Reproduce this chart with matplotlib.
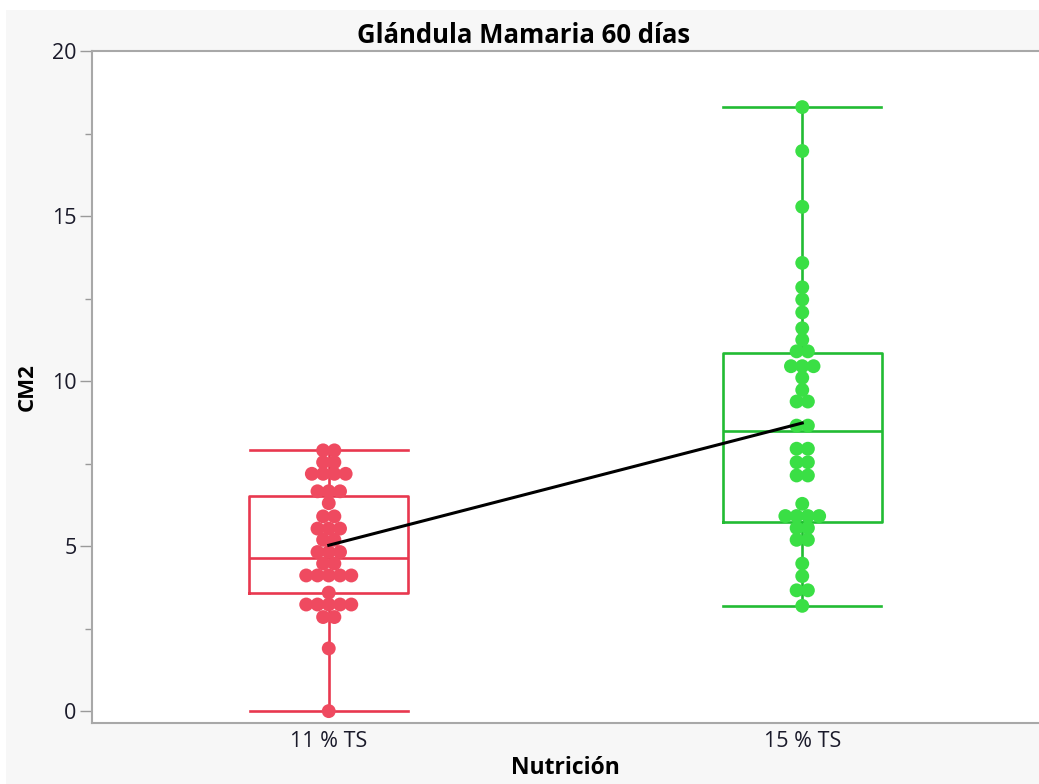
import numpy as np
import matplotlib
matplotlib.use("Agg")
import matplotlib.pyplot as plt
from matplotlib.patches import Rectangle

# DATA ----------------------------------------------------
groups = ["11 % TS", "15 % TS"]

red_values = [7.90, 7.90, 7.54, 7.54, 7.19, 7.19, 7.19, 7.19,
              6.66, 6.66, 6.66, 6.30, 5.90, 5.90, 5.53, 5.53, 5.53,
              5.19, 5.19, 4.82, 4.82, 4.82, 4.47, 4.47,
              4.11, 4.11, 4.11, 4.11, 4.11, 3.59,
              3.23, 3.23, 3.23, 3.23, 3.23, 2.85, 2.85, 1.90, 0.0]

green_values = [18.30, 16.97, 15.28, 13.58, 12.84, 12.47, 12.08, 11.60, 11.25,
                10.90, 10.90, 10.45, 10.45, 10.45, 10.10, 9.73, 9.38, 9.38,
                8.65, 8.65, 7.95, 7.95, 7.54, 7.54, 7.14, 7.14, 6.28,
                5.91, 5.91, 5.91, 5.91, 5.55, 5.55, 5.19, 5.19,
                4.47, 4.09, 3.66, 3.66, 3.19]

# box stats (quantiles as drawn)
box_q1 = [3.59, 5.73]
box_med = [4.63, 8.50]
box_q3 = [6.53, 10.85]
box_lo = [0.0, 3.19]
box_hi = [7.90, 18.30]

line_colors = ["#E8384F", "#22BB33"]
dot_colors = ["#EF4A60", "#3ADF45"]


def swarm_offsets(vals, step):
    # put equal values side by side, centred on the category
    vals = np.asarray(vals)
    offs = np.zeros(len(vals))
    for v in np.unique(vals):
        idx = np.where(vals == v)[0]
        n = len(idx)
        offs[idx] = (np.arange(n) - (n - 1) / 2.0) * step
    return offs


# FIGURE ---------------------------------------------------
plt.rcParams['font.family'] = ['Open Sans', 'DejaVu Sans']

fig = plt.figure(figsize=(10.39, 7.84), dpi=100, facecolor="#f7f7f7")
fig.patches.append(Rectangle((0, 1 - 10 / 784), 1, 10 / 784, transform=fig.transFigure,
                             facecolor="white", edgecolor="none", zorder=0))
fig.patches.append(Rectangle((0, 0), 6 / 1039, 1, transform=fig.transFigure,
                             facecolor="white", edgecolor="none", zorder=0))

ax = fig.add_axes([92 / 1039, 1 - 723 / 784, 1 - 92 / 1039, (723 - 51) / 784])
ax.set_facecolor("white")

stats = []
for i in range(2):
    stats.append(dict(med=box_med[i], q1=box_q1[i], q3=box_q3[i],
                      whislo=box_lo[i], whishi=box_hi[i], fliers=[]))

for i in range(2):
    c = line_colors[i]
    ax.bxp([stats[i]], positions=[i], widths=0.336, showfliers=False,
           patch_artist=False, manage_ticks=False,
           boxprops=dict(color=c, linewidth=1.9),
           medianprops=dict(color=c, linewidth=1.9),
           whiskerprops=dict(color=c, linewidth=1.9),
           capprops=dict(color=c, linewidth=1.9),
           capwidths=0.333)

all_vals = [red_values, green_values]
for i in range(2):
    offs = swarm_offsets(all_vals[i], 0.0238)
    ax.scatter(i + offs, all_vals[i], s=100, color=dot_colors[i],
               edgecolors="none", zorder=3)

means = [np.mean(red_values), np.mean(green_values)]
ax.plot([0, 1], means, color="black", linewidth=2.2, zorder=4)

ax.set_xlim(-0.5, 1.5)
ax.set_ylim(-0.36, 20.0)
ax.set_xticks([0, 1])
ax.set_xticklabels(groups)
ax.set_yticks([0, 5, 10, 15, 20])
ax.set_yticks([2.5, 7.5, 12.5, 17.5], minor=True)

ax.tick_params(axis="x", length=0, pad=6, labelsize=15.5, labelcolor="#1a1a2a")
ax.tick_params(axis="y", which="major", length=9, width=1, color="#9a9a9a",
               labelsize=15.5, labelcolor="#1a1a2a", pad=2)
ax.tick_params(axis="y", which="minor", length=5, width=1, color="#9a9a9a")

for s in ["left", "bottom", "top"]:
    ax.spines[s].set_color("#a8a8a8")
    ax.spines[s].set_linewidth(1.5)
ax.spines["right"].set_visible(False)

ax.set_title("Glándula Mamaria 60 días", fontsize=18.5, fontweight="bold",
             x=(524 - 92) / 947, pad=6)
ax.set_ylabel("CM2", fontsize=16, fontweight="bold", labelpad=10)
ax.set_xlabel("Nutrición", fontsize=16.5, fontweight="bold", labelpad=3)

fig.savefig("out.png", dpi=100, facecolor=fig.get_facecolor())
